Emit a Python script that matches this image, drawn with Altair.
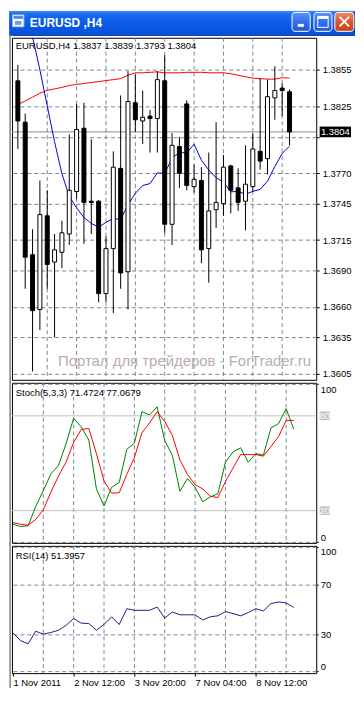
import json
import altair as alt
import pandas as pd

# ---------------- data ----------------
idx = list(range(38))
opens = [1.3846, 1.3812, 1.3703, 1.3658, 1.3735, 1.3697, 1.3705, 1.3720, 1.3755, 1.3807,
         1.3747, 1.3747, 1.3671, 1.3708, 1.3774, 1.3689, 1.3828, 1.3813, 1.3817, 1.3815,
         1.3846, 1.3728, 1.3792, 1.3827, 1.3759, 1.3764, 1.3708, 1.3740, 1.3745, 1.3776,
         1.3758, 1.3747, 1.3759, 1.3788, 1.3782, 1.3832, 1.3840, 1.3837]
highs = [1.3859, 1.3819, 1.3724, 1.3764, 1.3756, 1.3720, 1.3731, 1.3802, 1.3827, 1.3828,
         1.3798, 1.3748, 1.3718, 1.3788, 1.3834, 1.3854, 1.3851, 1.3838, 1.3822, 1.3854,
         1.3867, 1.3803, 1.3800, 1.3830, 1.3777, 1.3775, 1.3787, 1.3812, 1.3785, 1.3777,
         1.3774, 1.3793, 1.3803, 1.3848, 1.3847, 1.3858, 1.3844, 1.3839]
lows = [1.3790, 1.3675, 1.3607, 1.3641, 1.3675, 1.3635, 1.3692, 1.3711, 1.3749, 1.3712,
        1.3720, 1.3664, 1.3664, 1.3655, 1.3675, 1.3658, 1.3804, 1.3794, 1.3787, 1.3787,
        1.3721, 1.3711, 1.3758, 1.3756, 1.3754, 1.3696, 1.3680, 1.3725, 1.3735, 1.3737,
        1.3739, 1.3723, 1.3755, 1.3773, 1.3769, 1.3814, 1.3817, 1.3793]
closes = [1.3813, 1.3701, 1.3657, 1.3736, 1.3695, 1.3707, 1.3721, 1.3756, 1.3806, 1.3746,
          1.3746, 1.3671, 1.3708, 1.3775, 1.3688, 1.3829, 1.3814, 1.3816, 1.3815, 1.3847,
          1.3728, 1.3793, 1.3770, 1.3760, 1.3765, 1.3707, 1.3739, 1.3746, 1.3775, 1.3756,
          1.3746, 1.3761, 1.3790, 1.3780, 1.3833, 1.3838, 1.3838, 1.3804]
ma_red = [1.38266, 1.38294, 1.38326, 1.38358, 1.38382, 1.38394, 1.38406, 1.38422, 1.38430, 1.38438,
          1.38446, 1.38454, 1.38462, 1.38470, 1.38478, 1.38506, 1.38526, 1.38526, 1.38530, 1.38534,
          1.38526, 1.38526, 1.38526, 1.38530, 1.38530, 1.38530, 1.38526, 1.38526, 1.38526, 1.38518,
          1.38506, 1.38494, 1.38482, 1.38478, 1.38474, 1.38474, 1.38486, 1.38482]
ma_blue = [1.39381, 1.39101, 1.38822, 1.38550, 1.38254, 1.37959, 1.37695, 1.37511, 1.37415, 1.37336,
           1.37288, 1.37256, 1.37296, 1.37328, 1.37320, 1.37439, 1.37535, 1.37599, 1.37615, 1.37703,
           1.37699, 1.37823, 1.37871, 1.37867, 1.37939, 1.37807, 1.37727, 1.37663, 1.37627, 1.37547,
           1.37551, 1.37527, 1.37551, 1.37567, 1.37635, 1.37755, 1.37863, 1.37923]
stoch_main = [11.4, 10.0, 10.4, 22.6, 32.7, 43.3, 48.6, 62.3, 78.5, 73.0,
              64.7, 33.8, 23.0, 34.8, 37.8, 58.8, 62.7, 82.6, 80.6, 85.7,
              64.3, 55.1, 32.3, 40.3, 34.8, 25.6, 28.7, 30.7, 50.7, 57.2,
              59.8, 50.7, 56.1, 55.1, 72.4, 75.1, 84.6, 71.47]
stoch_signal = [12.4, 11.4, 10.8, 14.4, 20.5, 31.7, 41.9, 50.7, 63.3, 71.4,
                72.0, 56.1, 38.8, 31.1, 31.3, 42.9, 53.5, 69.4, 75.5, 82.6,
                76.5, 67.7, 52.1, 42.9, 36.4, 33.8, 29.1, 28.3, 38.4, 47.0,
                55.5, 55.5, 55.5, 54.5, 60.6, 66.9, 77.1, 77.07]
rsi = [31.0, 24.8, 22.2, 32.3, 30.0, 31.3, 33.1, 37.0, 42.6, 38.8,
       38.5, 33.1, 37.7, 43.9, 37.7, 50.4, 49.1, 49.1, 49.1, 51.7,
       42.9, 47.8, 45.5, 45.5, 45.5, 41.3, 43.9, 44.7, 48.1, 46.5,
       44.7, 47.3, 50.4, 48.6, 54.5, 55.8, 55.0, 51.40]

price_ticks = [1.3855, 1.3825, 1.3800, 1.3770, 1.3745, 1.3715, 1.3690, 1.3660, 1.3635, 1.3605]
grid_idx = [4, 8, 12, 16, 20, 24, 28, 32, 36]
time_label_idx = [0, 8, 16, 24, 32]
time_labels = ["1 Nov 2011", "2 Nov 12:00", "3 Nov 20:00", "7 Nov 04:00", "8 Nov 12:00"]
last_price = 1.3804
stoch_levels = [80, 20]
rsi_levels = [0, 30, 70, 100]
window_title = "EURUSD ,H4"
main_header = "EURUSD,H4  1.3837 1.3839 1.3793 1.3804"
stoch_header = "Stoch(5,3,3) 71.4724 77.0679"
rsi_header = "RSI(14) 51.3957"
watermark = "Портал для трейдеров - ForTrader.ru"

# ---------------- styling ----------------
FONT = "Liberation Sans"
GRID = "#778899"
W = 306
DASH = [4, 3]
BOX_PRICE = "M-1,-0.34L1,-0.34L1,0.34L-1,0.34Z"
BOX_LEVEL = "M-1,-0.86L1,-0.86L1,0.86L-1,0.86Z"

df = pd.DataFrame(dict(i=idx, open=opens, high=highs, low=lows, close=closes,
                       ma_red=ma_red, ma_blue=ma_blue,
                       st_main=stoch_main, st_sig=stoch_signal, rsi=rsi))
grid_df = pd.DataFrame({"g": grid_idx})
one = pd.DataFrame({"k": [0]})

xs = alt.Scale(domain=[-0.125, 39.96], nice=False, zero=False)

# ---------------- title bar (window chrome) ----------------
def grad(stops):
    return alt.Gradient(gradient="linear", x1=0, x2=0, y1=0, y2=1,
                        stops=[alt.GradientStop(color=c, offset=o) for o, c in stops])

tb = alt.Chart(one)
title_layers = [
    tb.mark_rect(color=grad([(0, "#3d8ff8"), (0.12, "#1a6cf0"), (0.5, "#0a5ae6"),
                             (0.9, "#0853de"), (1, "#0a4cc8")])).encode(
        x=alt.value(-2.9), x2=alt.value(344.6), y=alt.value(0), y2=alt.value(25)),
    tb.mark_rect(color="white", stroke="#9fb8e8", strokeWidth=1).encode(
        x=alt.value(0.5), x2=alt.value(12), y=alt.value(4), y2=alt.value(16)),
    tb.mark_rect(color="#5a86d6").encode(
        x=alt.value(1.5), x2=alt.value(11), y=alt.value(5), y2=alt.value(8)),
    tb.mark_rect(color="#6f9be0").encode(
        x=alt.value(3), x2=alt.value(9.5), y=alt.value(10), y2=alt.value(14)),
    tb.mark_text(text=window_title, color="white", fontWeight="bold", fontSize=12,
                 font=FONT, align="left", baseline="middle").encode(
        x=alt.value(18), y=alt.value(12.6)),
    # minimize
    tb.mark_rect(color=grad([(0, "#5c95f8"), (0.5, "#2f6fec"), (1, "#2259d8")]),
                 stroke="white", strokeWidth=1, cornerRadius=3).encode(
        x=alt.value(281.7), x2=alt.value(299.9), y=alt.value(1.5), y2=alt.value(20.5)),
    tb.mark_rect(color="white").encode(
        x=alt.value(287.5), x2=alt.value(293.5), y=alt.value(13), y2=alt.value(16)),
    # maximize
    tb.mark_rect(color=grad([(0, "#5c95f8"), (0.5, "#2f6fec"), (1, "#2259d8")]),
                 stroke="white", strokeWidth=1, cornerRadius=3).encode(
        x=alt.value(303.7), x2=alt.value(321.8), y=alt.value(1.5), y2=alt.value(20.5)),
    tb.mark_rect(fillOpacity=0, stroke="white", strokeWidth=1).encode(
        x=alt.value(307.5), x2=alt.value(318), y=alt.value(5.5), y2=alt.value(16.5)),
    tb.mark_rect(color="white").encode(
        x=alt.value(307.5), x2=alt.value(318), y=alt.value(5.5), y2=alt.value(8)),
    # close
    tb.mark_rect(color=grad([(0, "#ee8a62"), (0.45, "#e05a2f"), (1, "#c8421a")]),
                 stroke="white", strokeWidth=1, cornerRadius=3).encode(
        x=alt.value(324.7), x2=alt.value(343.8), y=alt.value(1.5), y2=alt.value(20.5)),
    tb.mark_rule(color="white", strokeWidth=2).encode(
        x=alt.value(329.5), x2=alt.value(339), y=alt.value(6), y2=alt.value(15.5)),
    tb.mark_rule(color="white", strokeWidth=2).encode(
        x=alt.value(339), x2=alt.value(329.5), y=alt.value(6), y2=alt.value(15.5)),
    # client edge line on the left
    tb.mark_rule(color="#404040").encode(
        x=alt.value(-1.9), y=alt.value(25), y2=alt.value(681)),
]
title_panel = alt.layer(*title_layers).properties(width=344, height=24)

# ---------------- main price panel ----------------
ys_main = alt.Scale(domain=[1.36001, 1.38814], nice=False, zero=False)
# the grid label hidden behind the current-price box is left blank
price_label_expr = (f"abs(datum.value - {last_price}) < 0.0005 ? '' : "
                    f"format(datum.value, '.4f')")
y_ax_main = alt.Axis(orient="right", values=price_ticks, labelExpr=price_label_expr,
                     grid=True, gridDash=DASH, gridColor=GRID, gridOpacity=1, tickSize=3,
                     tickColor="black", labelPadding=3, domain=False, title=None,
                     labelBaseline="middle")
x_none = alt.X("i:Q", scale=xs, axis=None)
base = alt.Chart(df)
lp = pd.DataFrame({"p": [last_price]})

main_layers = [
    alt.Chart(grid_df).mark_rule(color=GRID, strokeDash=DASH).encode(
        x=alt.X("g:Q", scale=xs, axis=None)),
    alt.Chart(lp).mark_rule(color="#8c8c8c").encode(
        y=alt.Y("p:Q", scale=ys_main, axis=y_ax_main)),
    base.mark_line(color="#ff0000", strokeWidth=1, clip=True).encode(
        x=x_none, y=alt.Y("ma_red:Q", scale=ys_main, axis=y_ax_main)),
    base.mark_line(color="#0000d8", strokeWidth=1, clip=True).encode(
        x=x_none, y=alt.Y("ma_blue:Q", scale=ys_main, axis=y_ax_main)),
    base.mark_rule(color="black", strokeWidth=1).encode(
        x=x_none, y=alt.Y("low:Q", scale=ys_main, axis=y_ax_main), y2="high:Q"),
    base.mark_bar(width=4, stroke="black", strokeWidth=1).encode(
        x=x_none, y=alt.Y("open:Q", scale=ys_main, axis=y_ax_main), y2="close:Q",
        fill=alt.condition("datum.close >= datum.open", alt.value("white"), alt.value("black"))),
    alt.Chart(one).mark_text(text=main_header, align="left", baseline="middle", font=FONT,
                             fontSize=9.5, color="black").encode(
        x=alt.value(3.8), y=alt.value(7.8)),
    alt.Chart(one).mark_text(text=watermark, align="right", baseline="middle", font=FONT,
                             fontSize=15, color="#b9adad").encode(
        x=alt.value(300.8), y=alt.value(325.2)),
    alt.Chart(lp).mark_point(shape=BOX_PRICE, filled=True, size=992, color="black",
                             opacity=1, strokeWidth=0).encode(
        x=alt.value(325.2), y=alt.Y("p:Q", scale=ys_main, axis=y_ax_main)),
    alt.Chart(lp).mark_text(color="white", fontSize=9.5, font=FONT, align="center",
                            baseline="middle").encode(
        x=alt.value(325.2), y=alt.Y("p:Q", scale=ys_main, axis=y_ax_main),
        text=alt.Text("p:Q", format=".4f")),
]
main = alt.layer(*main_layers).properties(width=W, height=344)

# ---------------- stochastic panel ----------------
ys_st = alt.Scale(domain=[-0.4, 100.9], nice=False, zero=False)
y_ax_st = alt.Axis(orient="right", values=[0, 100], format="d", grid=True, gridDash=DASH,
                   gridColor=GRID, gridOpacity=1, tickSize=2, tickColor="black",
                   labelPadding=2, labelFlush=5, domain=False, title=None)
lv = pd.DataFrame({"lv": stoch_levels})
stoch_layers = [
    alt.Chart(grid_df).mark_rule(color=GRID, strokeDash=DASH).encode(
        x=alt.X("g:Q", scale=xs, axis=None)),
    alt.Chart(lv).mark_rule(color="#c0c0c0").encode(
        y=alt.Y("lv:Q", scale=ys_st, axis=y_ax_st)),
    base.mark_line(color="#008000", strokeWidth=1).encode(
        x=x_none, y=alt.Y("st_main:Q", scale=ys_st, axis=y_ax_st)),
    base.mark_line(color="#ff0000", strokeWidth=1).encode(
        x=x_none, y=alt.Y("st_sig:Q", scale=ys_st, axis=y_ax_st)),
    alt.Chart(one).mark_text(text=stoch_header, align="left", baseline="middle", font=FONT,
                             fontSize=9.5, color="black").encode(
        x=alt.value(3.8), y=alt.value(10)),
    alt.Chart(lv).mark_point(shape=BOX_LEVEL, filled=True, size=100, color="#c0c0c0",
                             opacity=1, strokeWidth=0).encode(
        x=alt.value(314.5), y=alt.Y("lv:Q", scale=ys_st, axis=y_ax_st)),
    alt.Chart(lv).mark_text(color="white", fontSize=9.5, font=FONT, align="center",
                            baseline="middle").encode(
        x=alt.value(314.5), y=alt.Y("lv:Q", scale=ys_st, axis=y_ax_st),
        text=alt.Text("lv:Q", format="d")),
]
stoch = alt.layer(*stoch_layers).properties(width=W, height=161)

# ---------------- RSI panel ----------------
ys_rsi = alt.Scale(domain=[-1.3, 100.8], nice=False, zero=False)
y_ax_rsi = alt.Axis(orient="right", values=rsi_levels, format="d", grid=True, gridDash=DASH,
                    gridColor=GRID, gridOpacity=1, tickSize=2, tickColor="black",
                    labelPadding=2, labelFlush=5, domain=False, title=None)
label_expr = f"{json.dumps(time_labels)}[indexof({json.dumps(time_label_idx)}, datum.value)]"
x_ax_rsi = alt.Axis(orient="bottom", values=time_label_idx, labelExpr=label_expr,
                    labelAlign="left", tickSize=3, tickColor="black", labelPadding=1,
                    domain=False, grid=False, title=None, labelFlush=False)
rsi_layers = [
    alt.Chart(grid_df).mark_rule(color=GRID, strokeDash=DASH).encode(
        x=alt.X("g:Q", scale=xs, axis=x_ax_rsi)),
    base.mark_line(color="#1f1f80", strokeWidth=1).encode(
        x=alt.X("i:Q", scale=xs, axis=x_ax_rsi),
        y=alt.Y("rsi:Q", scale=ys_rsi, axis=y_ax_rsi)),
    alt.Chart(one).mark_text(text=rsi_header, align="left", baseline="middle", font=FONT,
                             fontSize=9.5, color="black").encode(
        x=alt.value(3.8), y=alt.value(10.4)),
]
rsi_panel = alt.layer(*rsi_layers).properties(width=W, height=128)

chart = (
    alt.vconcat(title_panel, main, stoch, rsi_panel, spacing=3, bounds="flush")
    .properties(padding=0)
    .configure(background="white")
    .configure_view(stroke="black", strokeWidth=1, fill="white")
    .configure_axis(labelFont=FONT, labelFontSize=9.5, labelColor="black")
)

chart.save("out.html", embed_options={"renderer": "svg", "actions": False})
